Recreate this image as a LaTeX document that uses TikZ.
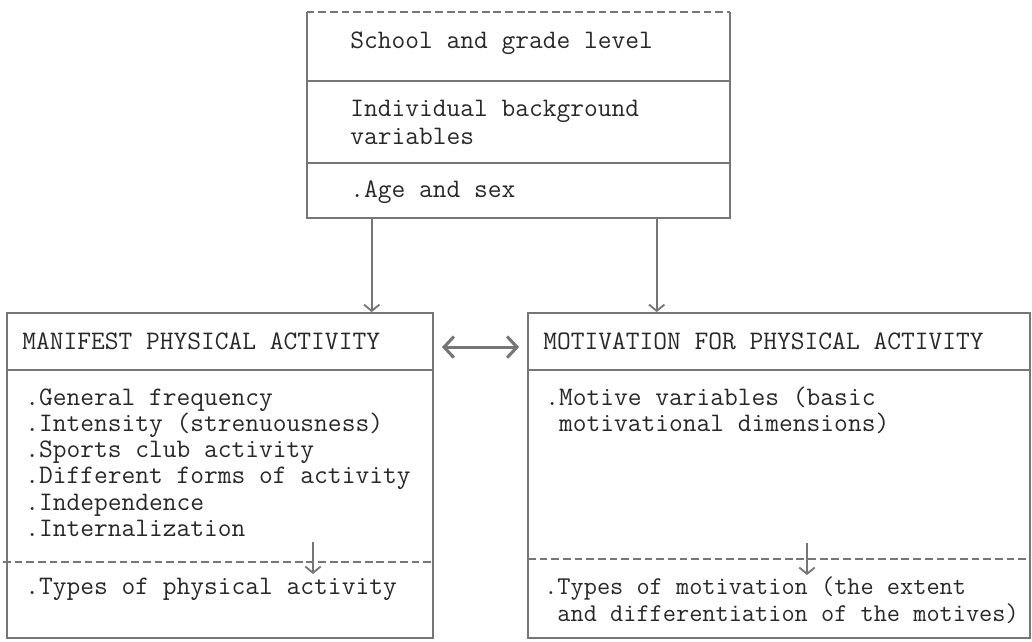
\documentclass[tikz,border=0pt]{standalone}
\usepackage{fontspec}
\usetikzlibrary{arrows.meta,positioning,fit,calc}
\definecolor{linegray}{RGB}{118,118,118}
\definecolor{inkgray}{RGB}{40,40,40}
\begin{document}
\begin{tikzpicture}[x=0.025cm,y=-0.025cm,
	box/.style={draw=linegray,line width=1.3pt,inner sep=0pt},
	rule/.style={draw=linegray,line width=1.3pt},
	dashrule/.style={rule,dash pattern=on 5.5pt off 2.8pt},
	txt/.style={anchor=base west,inner sep=0pt,text=inkgray,font=\ttfamily\fontsize{19}{20}\selectfont},
	small/.style={txt,font=\ttfamily\fontsize{18.2}{20}\selectfont},
	dbl/.style={rule,line width=2.2pt,<->,>={Straight Barb[length=7pt,width=15pt]}},
	>={Straight Barb[length=4.5pt,width=11pt]}]
	\useasboundingbox (0,0) rectangle (1032,641);

	% top box
	\node[fit={(307,12) (730,218)},inner sep=0pt] (Top) {};
	\draw[rule] (Top.north west) -- (Top.south west) -- (Top.south east) -- (Top.north east);
	\draw[dashrule] (Top.north west) -- (Top.north east);
	\draw[rule] (307,81) -- (730,81);
	\draw[rule] (307,163) -- (730,163);
	\node[txt] (School) at (350,48) {School and grade level};
	\node[txt] (Indiv) at (350,116) {Individual background};
	\node[txt] (Indiv2) at (350,144) {variables};
	\node[txt] (Age) at (350,197) {.Age and sex};

	% left box
	\node[box,fit={(7,313) (433,638)}] (MPA) {};
	\draw[rule] (7,370) -- (433,370);
	\draw[dashrule] (3,562) -- (433,562);
	\node[txt] (MPAhead) at (22,349) {MANIFEST PHYSICAL ACTIVITY};
	\foreach \item [count=\i] in {.General frequency,.Intensity (strenuousness),.Sports club activity,.Different forms of activity,.Independence,.Internalization}
		\node[txt] (MPA\i) at (25,{405+26.3*(\i-1)}) {\item};
	\node[txt] (MPAtypes) at (25,594) {.Types of physical activity};

	% right box
	\node[box,fit={(528,313) (1030,638)}] (MOT) {};
	\draw[rule] (528,370) -- (1030,370);
	\draw[dashrule] (528,559) -- (1030,559);
	\node[txt] (MOThead) at (543,349) {MOTIVATION FOR PHYSICAL ACTIVITY};
	\node[txt] (MOT1) at (545,405) {.Motive variables (basic};
	\node[txt] (MOT2) at (545,431) {\hphantom{.}motivational dimensions)};
	\node[small] (MOTtypes) at (544,594) {.Types of motivation (the extent};
	\node[small] (MOTtypes2) at (544,621) {\hphantom{.}and differentiation of the motives)};

	% arrows
	\path (Top.south west) ++(65,0) coordinate (t1);
	\path (Top.south west) ++(350,0) coordinate (t2);
	\draw[rule,->] (t1) -- (t1 |- MPA.north);
	\draw[rule,->] (t2) -- (t2 |- MOT.north);
	\path (MPA.north east) ++(8,35) coordinate (d1);
	\path (MOT.north west) ++(-8,35) coordinate (d2);
	\draw[dbl] (d1) -- (d2);
	\coordinate (a1) at (313,542);
	\coordinate (a2) at (313,574);
	\coordinate (b1) at (807,543);
	\coordinate (b2) at (807,575);
	\draw[rule,->] (a1) -- (a2);
	\draw[rule,->] (b1) -- (b2);
\end{tikzpicture}
\end{document}
